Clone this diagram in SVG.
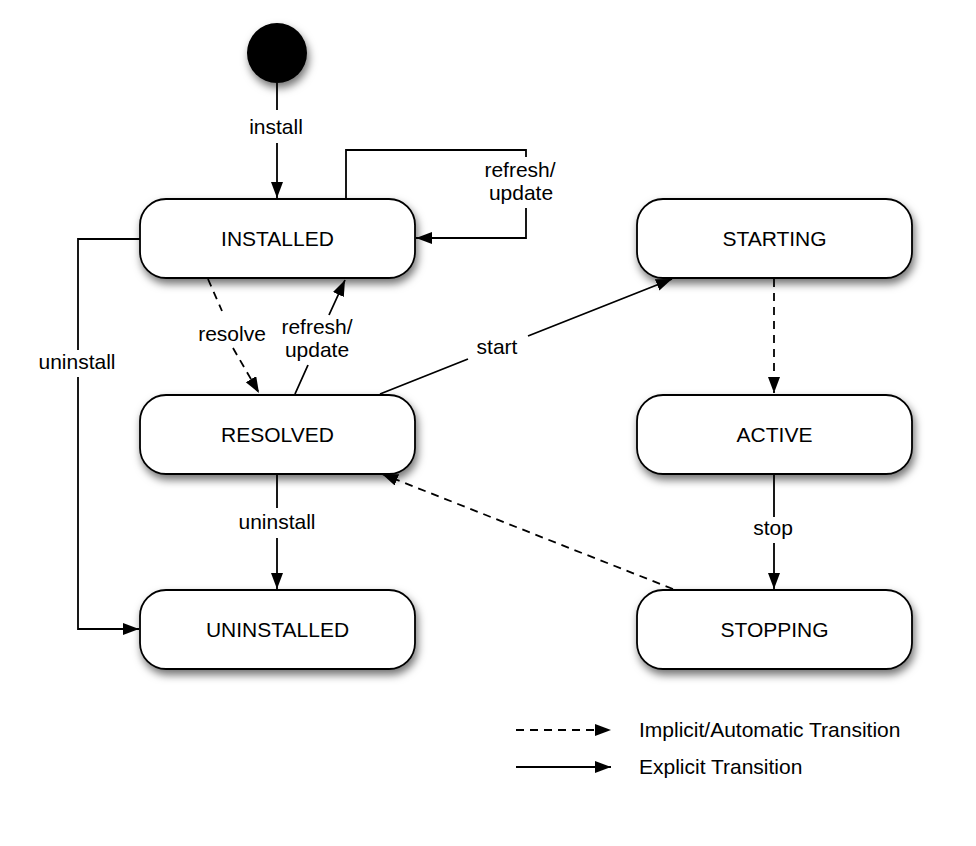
<svg xmlns="http://www.w3.org/2000/svg" width="976" height="846" viewBox="0 0 976 846">
<defs>
<filter id="shadow" x="-20%" y="-30%" width="140%" height="170%">
<feDropShadow dx="2" dy="5" stdDeviation="4.5" flood-color="#000" flood-opacity="0.55"/>
</filter>
<marker id="arrow" markerUnits="userSpaceOnUse" markerWidth="17" markerHeight="13" refX="16" refY="6" orient="auto" viewBox="0 0 17 13">
<path d="M0,0 L16,6 L0,12 z" fill="#000"/>
</marker>
</defs>
<style>
.node rect { fill: #fff; stroke: #000; stroke-width: 1.8; filter: url(#shadow); }
.node text, .label { font-family: "Liberation Sans", Arial, sans-serif; font-size: 21px; fill: #000; text-anchor: middle; }
.edge { fill: none; stroke: #000; stroke-width: 1.8; marker-end: url(#arrow); }
.dashed { stroke-dasharray: 8 6; }
.legend-text { font-family: "Liberation Sans", Arial, sans-serif; font-size: 21px; fill: #000; }
</style>
<rect width="976" height="846" fill="#fff"/>

<g id="connectors">
<path class="edge" d="M277,83 L277,110 M277,143 L277,198"/>
<path class="edge" d="M346,199 L346,150 L526,150 L526,157 M526,208 L526,238 L416,238"/>
<path class="edge dashed" d="M208,279 L222,311 M233,348 L259,393"/>
<path class="edge" d="M295,394 L308,365 M329,315 L345,280"/>
<path class="edge" d="M380,394 L468,359 M528,336 L672,279"/>
<path class="edge dashed" d="M774,279 L774,393"/>
<path class="edge" d="M774,474 L774,517 M774,543 L774,589"/>
<path class="edge dashed" d="M673,589 L382,474"/>
<path class="edge" d="M277,474 L277,508 M277,538 L277,589"/>
<path class="edge" d="M140,239 L78,239 L78,350 M78,377 L78,629 L139,629"/>
<text class="label" x="276" y="134">install</text>
<text class="label" x="520" y="177">refresh/</text>
<text class="label" x="521" y="200">update</text>
<text class="label" x="232" y="341">resolve</text>
<text class="label" x="317" y="334">refresh/</text>
<text class="label" x="317" y="357">update</text>
<text class="label" x="497" y="354">start</text>
<text class="label" x="773" y="535">stop</text>
<text class="label" x="277" y="529">uninstall</text>
<text class="label" x="77" y="369">uninstall</text>
</g>

<g id="initial">
<circle cx="277" cy="53" r="30" fill="#000" filter="url(#shadow)"/>
</g>
<g id="installed" class="node">
<rect x="140" y="199" width="275" height="79" rx="26" ry="26"/>
<text x="277.5" y="246">INSTALLED</text>
</g>
<g id="resolved" class="node">
<rect x="140" y="395" width="275" height="79" rx="26" ry="26"/>
<text x="277.5" y="442">RESOLVED</text>
</g>
<g id="uninstalled" class="node">
<rect x="140" y="590" width="275" height="79" rx="26" ry="26"/>
<text x="277.5" y="637">UNINSTALLED</text>
</g>
<g id="starting" class="node">
<rect x="637" y="199" width="275" height="79" rx="26" ry="26"/>
<text x="774.5" y="246">STARTING</text>
</g>
<g id="active" class="node">
<rect x="637" y="395" width="275" height="79" rx="26" ry="26"/>
<text x="774.5" y="442">ACTIVE</text>
</g>
<g id="stopping" class="node">
<rect x="637" y="590" width="275" height="79" rx="26" ry="26"/>
<text x="774.5" y="637">STOPPING</text>
</g>

<g id="legend">
<path class="edge dashed" d="M516,730 L611,730"/>
<path class="edge" d="M516,767 L611,767"/>
<text class="legend-text" x="639" y="737">Implicit/Automatic Transition</text>
<text class="legend-text" x="639" y="774">Explicit Transition</text>
</g>
</svg>
